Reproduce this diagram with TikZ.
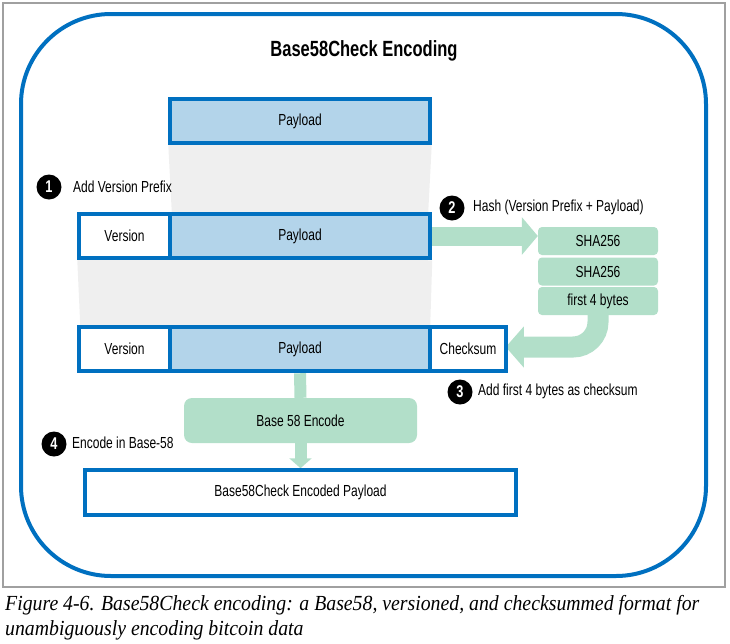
\documentclass[tikz,border=0pt]{standalone}
\usepackage{fontspec}
\setmainfont{Liberation Sans}[FakeStretch=0.75]
\newfontfamily\capfont{Liberation Serif}[FakeStretch=0.92]
\usetikzlibrary{arrows.meta,calc}
\pgfdeclarelayer{background}
\pgfsetlayers{background,main}
\definecolor{bblue}{RGB}{0,112,192}
\definecolor{lblue}{RGB}{179,212,234}
\definecolor{lgreen}{RGB}{178,223,201}
\definecolor{lgray}{RGB}{239,239,239}
\definecolor{fgray}{RGB}{160,160,160}
\begin{document}
\begin{tikzpicture}[x=1pt,y=-1pt,
  lbl/.style={font=\fontsize{16}{18}\selectfont, inner sep=0pt},
  wbox/.style={draw=bblue, line width=3.5pt, fill=white, lbl, minimum height=44pt},
  pbox/.style={draw=bblue, line width=4.5pt, fill=lblue, lbl, minimum height=44pt, minimum width=260pt},
  gbox/.style={fill=lgreen, rounded corners=4pt, lbl, minimum width=120pt, minimum height=28pt},
  badge/.style={circle, fill=black, text=white, minimum size=25pt, inner sep=0pt, font=\bfseries\fontsize{17}{17}\selectfont},
  note/.style={lbl, anchor=west},
  fat/.style={draw=lgreen, line width=#1},
  captxt/.style={anchor=base west, inner sep=0pt, font=\capfont\itshape\fontsize{21.5}{24}\selectfont}
]
\useasboundingbox (0,0) rectangle (730,643);
\draw[fgray, line width=1.2pt] (3,3) rectangle (725,587);
\draw[bblue, line width=4pt, rounded corners=90pt] (21,14) rectangle (706,576);

\node[font=\bfseries\fontsize{22}{24}\selectfont] (title) at (364,51) {Base58Check Encoding};

% row 0
\node[pbox, line width=3.5pt] (p0) at (300,121) {Payload};
% row 1
\node[wbox, minimum width=91pt] (v1) at (124.5,236) {Version};
\node[pbox] (p1) at (300,236) {Payload};
% row 2
\node[wbox, minimum width=91pt] (v2) at (124.5,349) {Version};
\node[wbox, minimum width=76pt] (cks) at (468,349) {Checksum};
\node[pbox] (p2) at (300,349) {Payload};

% hash boxes
\node[gbox] (sha1) at (598,241) {SHA256};
\node[gbox] (sha2) at (598,271.5) {SHA256};
\node[gbox] (sha3) at (598,301) {first 4 bytes};

% encode
\node[fill=lgreen, rounded corners=8pt, lbl, minimum width=233pt, minimum height=45pt] (b58) at (300.5,420.5) {Base 58 Encode};
\node[wbox, minimum width=431pt, minimum height=45pt] (fin) at (300.5,492.5) {Base58Check Encoded Payload};

% badges and notes
\node[badge] (n1) at (49,187) {1};
\node[note] (t1) at (73,187) {Add Version Prefix};
\node[badge] (n2) at (452,208) {2};
\node[note] (t2) at (473,207) {Hash (Version Prefix + Payload)};
\node[badge] (n3) at (460,392) {3};
\node[note] (t3) at (478,391) {Add first 4 bytes as checksum};
\node[badge] (n4) at (54,444) {4};
\node[note] (t4) at (72,443) {Encode in Base-58};

% caption
\node[captxt] (cap1) at (5,610) {Figure 4-6. Base58Check encoding: a Base58, versioned, and checksummed format for};
\node[captxt] (cap2) at (5,635) {unambiguously encoding bitcoin data};

\begin{pgfonlayer}{background}
  \fill[lgray] (p0.south west) -- (p0.south east) -- ($(p1.north east)+(-4,0)$) -- ($(p1.north west)+(4,0)$) -- cycle;
  \fill[lgray] (v1.south west) -- (p1.south east) -- ($(p2.north east)+(-2,0)$) -- ($(v2.north west)+(3,0)$) -- cycle;
  \draw[fat=19pt, -{Triangle[length=16pt,width=37pt]}] (p1.east) -- (p1.east -| sha1.west);
  \draw[fat=21pt, rounded corners=25pt, -{Triangle[length=18pt,width=40pt]}] (sha3.south) |- ($(cks.east)+(-2,-2)$);
  \draw[fat=12pt] (p2.south) -- (b58.north);
  \draw[fat=12pt, -{Triangle[length=10pt,width=22pt]}] (b58.south) -- (fin.north);
\end{pgfonlayer}
\end{tikzpicture}
\end{document}
